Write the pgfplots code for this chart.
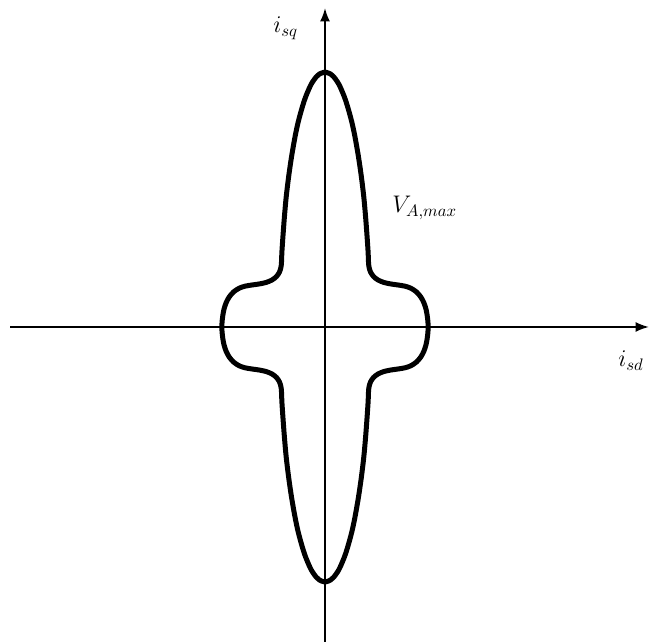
\documentclass[border=0pt]{standalone}
\usepackage{pgfplots}
\pgfplotsset{compat=1.18}
\usetikzlibrary{arrows.meta}

\begin{document}
\begin{tikzpicture}
\begin{axis}[
  x=0.6pt, y=0.6pt,
  xmin=-325, xmax=324, ymin=-315, ymax=327,
  hide axis, clip=false,
]
% frame of the picture
\coordinate (bl) at (axis cs:-325,-315);
\coordinate (tr) at (axis cs:324,327);

% current axes
\addplot[line width=1.2pt, -{Latex[length=8pt,width=6pt]}] coordinates {(-315,0) (324,0)};
\addplot[line width=1.2pt, -{Latex[length=8pt,width=6pt]}] coordinates {(0,-316) (0,319)};

% voltage limit contour
\addplot[line width=3pt, smooth, tension=0.5, line join=round] coordinates {
  (0,255) (5.6,253) (8.9,250) (12.5,245) (15.2,240) (19.4,230) (22.7,220)
  (26.8,205) (30.0,190) (33.5,170) (36.4,150) (38.8,130) (40.6,110)
  (42.1,90) (43.1,75) (43.5,65) (44,60) (45.5,55) (48.5,50.5) (53,47)
  (59,44.5) (66,43) (73,42) (80,40.8) (86,38.7) (91.5,35) (95.8,30)
  (99,24) (101.2,17) (102.4,10) (103,4) (103.1,0)
  (103,-4) (102.4,-10) (101.2,-17) (99,-24) (95.8,-30) (91.5,-35)
  (86,-38.7) (80,-40.8) (73,-42) (66,-43) (59,-44.5) (53,-47) (48.5,-50.5)
  (45.5,-55) (44,-60) (43.5,-65) (43.1,-75) (42.1,-90) (40.6,-110)
  (38.8,-130) (36.4,-150) (33.5,-170) (30.0,-190) (26.8,-205) (22.7,-220)
  (19.4,-230) (15.2,-240) (12.5,-245) (8.9,-250) (5.6,-253) (0,-255)
  (-5.6,-253) (-8.9,-250) (-12.5,-245) (-15.2,-240) (-19.4,-230) (-22.7,-220)
  (-26.8,-205) (-30.0,-190) (-33.5,-170) (-36.4,-150) (-38.8,-130)
  (-40.6,-110) (-42.1,-90) (-43.1,-75) (-43.5,-65) (-44,-60) (-45.5,-55)
  (-48.5,-50.5) (-53,-47) (-59,-44.5) (-66,-43) (-73,-42) (-80,-40.8)
  (-86,-38.7) (-91.5,-35) (-95.8,-30) (-99,-24) (-101.2,-17) (-102.4,-10)
  (-103,-4) (-103.1,0)
  (-103,4) (-102.4,10) (-101.2,17) (-99,24) (-95.8,30) (-91.5,35)
  (-86,38.7) (-80,40.8) (-73,42) (-66,43) (-59,44.5) (-53,47) (-48.5,50.5)
  (-45.5,55) (-44,60) (-43.5,65) (-43.1,75) (-42.1,90) (-40.6,110)
  (-38.8,130) (-36.4,150) (-33.5,170) (-30.0,190) (-26.8,205) (-22.7,220)
  (-19.4,230) (-15.2,240) (-12.5,245) (-8.9,250) (-5.6,253) (0,255)
} -- cycle;

% labels
\node[anchor=base west, inner sep=0, font=\Large] at (axis cs:-52,294) {$i_{sq}$};
\node[anchor=base west, inner sep=0, font=\Large] at (axis cs:293,-40) {$i_{sd}$};
\node[anchor=base west, inner sep=0, font=\Large] at (axis cs:67,114) {$V_{A,max}$};
\end{axis}
\pgfresetboundingbox
\path (bl) rectangle (tr);
\end{tikzpicture}
\end{document}
